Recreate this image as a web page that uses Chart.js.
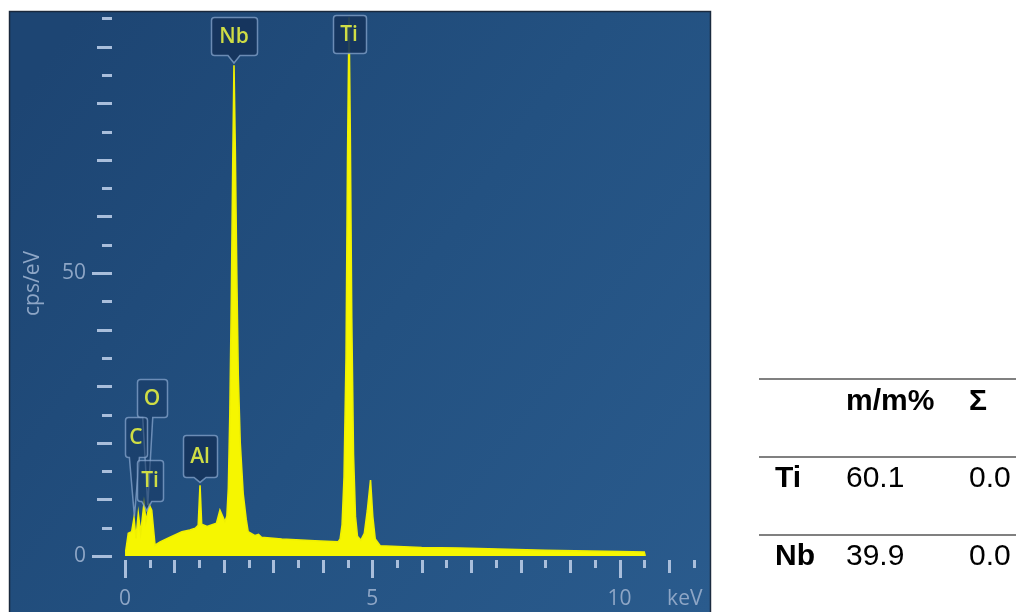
<!DOCTYPE html>
<html>
<head>
<meta charset="utf-8">
<script src="https://cdn.jsdelivr.net/npm/chart.js@4/dist/chart.umd.min.js"></script>
<style>
html,body{margin:0;padding:0;background:#ffffff;}
#wrap{position:relative;width:1016px;height:612px;overflow:hidden;background:#ffffff;}
#c{position:absolute;left:0;top:0;}
.cell{position:absolute;font-family:"Liberation Sans",Arial,sans-serif;font-size:30px;line-height:30px;color:#000;white-space:nowrap;}
.b{font-weight:bold;}
.rule{position:absolute;left:759px;width:257px;height:2px;background:#808080;}
</style>
</head>
<body>
<div id="wrap">
<canvas id="c" width="1016" height="612"></canvas>
<div id="tbl"></div>
</div>
<script>
// ---- data ----
const energy = [0, 0.034, 0.067, 0.135, 0.182, 0.222, 0.269, 0.317, 0.384, 0.425, 0.491, 0.540, 0.607, 0.71, 0.91, 1.15, 1.31, 1.42, 1.48, 1.517, 1.55, 1.66, 1.85, 1.92, 2.02, 2.06, 2.09, 2.12, 2.15, 2.18, 2.204, 2.23, 2.26, 2.29, 2.33, 2.39, 2.45, 2.49, 2.63, 2.70, 2.76, 3.17, 3.84, 4.31, 4.35, 4.39, 4.43, 4.47, 4.50, 4.53, 4.555, 4.585, 4.62, 4.66, 4.70, 4.77, 4.84, 4.90, 4.965, 5.01, 5.06, 5.16, 6.0, 6.77, 8.5, 10.0, 10.5, 10.52];
const counts = [0, 2, 4, 4.3, 6.7, 3.1, 7.5, 4, 9.3, 6.1, 9, 8.1, 1.9, 2.5, 3.3, 4.3, 4.6, 4.9, 5.4, 12.5, 5.6, 5.2, 5.8, 8.1, 6.1, 7, 12, 25, 45, 70, 86.7, 72, 50, 32, 20, 11, 6.5, 4.3, 3.6, 3.8, 3.3, 3.0, 2.7, 2.5, 3, 5.5, 14, 35, 70, 95.2, 75, 42, 18, 7, 3.5, 2.8, 4, 8, 13.4, 7, 3, 1.8, 1.5, 1.4, 1.0, 0.8, 0.7, 0];

const xTickValues = [0, 5, 10, 11.32];
const xTickLabels = ['0', '5', '10', 'keV'];
const yTickValues = [0, 50];
const yTickLabels = ['0', '50'];
const yAxisTitle = 'cps/eV';
const xMarkValues = [0, 0.5, 1, 1.5, 2, 2.5, 3, 3.5, 4, 4.5, 5, 5.5, 6, 6.5, 7, 7.5, 8, 8.5, 9, 9.5, 10, 10.5, 11, 11.5];
const yMarkValues = [0, 5, 10, 15, 20, 25, 30, 35, 40, 45, 50, 55, 60, 65, 70, 75, 80, 85, 90, 95];

const peakLabels = ['Nb', 'Ti', 'O', 'C', 'Ti', 'Al'];
const peakLabelEnergy = [2.204, 4.53, 0.546, 0.222, 0.506, 1.517];
const peakLabelLevel = [91.9, 92.2, 27.9, 21.0, 13.4, 17.7];
const peakTipEnergy = [2.204, 4.53, 0.46, 0.19, 0.44, 1.517];
const peakTipLevel = [87.1, 92.2, 9.0, 7.0, 8.0, 13.0];

const tableHeader = ['', 'm/m%', 'Σ'];
const tableElements = ['Ti', 'Nb'];
const tableMass = ['60.1', '39.9'];
const tableSigma = ['0.0', '0.0'];

// ---- annotation styling (sizes in px) ----
const boxStyle = [
  {w: 46, h: 38, tail: 'notch'},
  {w: 33, h: 38, tail: 'none'},
  {w: 30, h: 38, tail: 'long'},
  {w: 22, h: 40, tail: 'long'},
  {w: 26, h: 41, tail: 'long'},
  {w: 34, h: 42, tail: 'notch'}
];

const PANEL = {x: 9, y: 11, r: 711, b: 612};

const bgPlugin = {
  id: 'panelBg',
  beforeDraw(chart) {
    const ctx = chart.ctx;
    ctx.save();
    ctx.fillStyle = '#ffffff';
    ctx.fillRect(0, 0, chart.width, chart.height);
    const g = ctx.createLinearGradient(PANEL.x, PANEL.y + 100, PANEL.r, PANEL.b);
    g.addColorStop(0, '#1d4573');
    g.addColorStop(0.5, '#235181');
    g.addColorStop(1, '#2a5b8d');
    ctx.fillStyle = g;
    ctx.fillRect(PANEL.x, PANEL.y, PANEL.r - PANEL.x, PANEL.b - PANEL.y);
    ctx.strokeStyle = 'rgba(25,35,50,0.85)';
    ctx.lineWidth = 1.5;
    ctx.strokeRect(PANEL.x + 0.5, PANEL.y + 0.5, PANEL.r - PANEL.x - 1, PANEL.b - PANEL.y + 5);
    ctx.restore();
  }
};

const marksPlugin = {
  id: 'tickMarks',
  afterDraw(chart) {
    const ctx = chart.ctx;
    const xs = chart.scales.x, ys = chart.scales.y;
    ctx.save();
    ctx.strokeStyle = '#a9bedb';
    ctx.lineWidth = 3;
    ctx.lineCap = 'butt';
    const yRight = 112;
    yMarkValues.forEach(v => {
      const py = Math.round(ys.getPixelForValue(v)) + 0.5;
      const len = (v % 50 === 0) ? 20 : (v % 10 === 0 ? 15 : 10);
      ctx.beginPath();
      ctx.moveTo(yRight - len, py);
      ctx.lineTo(yRight, py);
      ctx.stroke();
    });
    const xTop = 560;
    xMarkValues.forEach(v => {
      const px = Math.round(xs.getPixelForValue(v)) + 0.5;
      const len = (v % 5 === 0) ? 18 : (v % 1 === 0 ? 13 : 8);
      ctx.beginPath();
      ctx.moveTo(px, xTop);
      ctx.lineTo(px, xTop + len);
      ctx.stroke();
    });
    ctx.restore();
  }
};

const labelPlugin = {
  id: 'peakLabels',
  afterDatasetsDraw(chart) {
    const ctx = chart.ctx;
    const xs = chart.scales.x, ys = chart.scales.y;
    ctx.save();
    peakLabels.forEach((txt, i) => {
      const st = boxStyle[i];
      const cx = xs.getPixelForValue(peakLabelEnergy[i]);
      const cy = ys.getPixelForValue(peakLabelLevel[i]);
      const tx = xs.getPixelForValue(peakTipEnergy[i]);
      const ty = ys.getPixelForValue(peakTipLevel[i]);
      const x0 = Math.round(cx - st.w / 2) + 0.5, y0 = Math.round(cy - st.h / 2) + 0.5;
      const x1 = x0 + st.w, y1 = y0 + st.h;
      const r = 3;
      ctx.beginPath();
      ctx.moveTo(x0 + r, y0);
      ctx.lineTo(x1 - r, y0);
      ctx.quadraticCurveTo(x1, y0, x1, y0 + r);
      ctx.lineTo(x1, y1 - r);
      ctx.quadraticCurveTo(x1, y1, x1 - r, y1);
      if (st.tail === 'notch' || st.tail === 'long') {
        const hw = st.tail === 'notch' ? 6 : 5;
        const mid = st.tail === 'notch' ? cx : Math.max(x0 + hw + 2, Math.min(x1 - hw - 2, tx));
        ctx.lineTo(mid + hw, y1);
        ctx.lineTo(tx, ty);
        ctx.lineTo(mid - hw, y1);
      }
      ctx.lineTo(x0 + r, y1);
      ctx.quadraticCurveTo(x0, y1, x0, y1 - r);
      ctx.lineTo(x0, y0 + r);
      ctx.quadraticCurveTo(x0, y0, x0 + r, y0);
      ctx.closePath();
      ctx.fillStyle = st.tail === 'long' ? 'rgba(24,56,98,0.55)' : 'rgba(22,52,92,0.92)';
      ctx.fill();
      ctx.strokeStyle = 'rgba(135,165,205,0.75)';
      ctx.lineWidth = 1.5;
      ctx.stroke();
      ctx.fillStyle = '#cfdd45';
      ctx.font = '600 21px "Open Sans", "Noto Sans", sans-serif';
      ctx.textAlign = 'center';
      ctx.textBaseline = 'middle';
      ctx.fillText(txt, cx, cy + 1);
    });
    ctx.restore();
  }
};

const tickColor = '#8ea6c6';

new Chart(document.getElementById('c'), {
  type: 'line',
  data: {
    datasets: [{
      data: energy.map((e, i) => ({x: e, y: counts[i]})),
      borderColor: '#f0f000',
      backgroundColor: '#f6f600',
      borderWidth: 1.6,
      pointRadius: 0,
      tension: 0,
      fill: 'origin'
    }]
  },
  options: {
    responsive: false,
    animation: false,
    devicePixelRatio: 1,
    layout: {padding: {left: 0, right: 1016 - PANEL.r, top: PANEL.y, bottom: 0}},
    plugins: {legend: {display: false}, tooltip: {enabled: false}},
    scales: {
      x: {
        type: 'linear',
        min: 0,
        max: 11.85,
        grid: {display: false, drawTicks: false},
        border: {display: false},
        afterBuildTicks: s => { s.ticks = xTickValues.map(v => ({value: v})); },
        afterFit: s => { s.height = 56; s.paddingLeft = 0; s.paddingRight = 0; s.paddingTop = 0; s.paddingBottom = 0; },
        ticks: {
          padding: 30,
          autoSkip: false,
          maxRotation: 0,
          color: tickColor,
          font: {family: '"Open Sans", "Noto Sans", sans-serif', size: 21},
          callback: (v, i) => xTickLabels[i]
        }
      },
      y: {
        type: 'linear',
        min: 0,
        max: 96.3,
        grid: {display: false, drawTicks: false},
        border: {display: false},
        afterBuildTicks: s => { s.ticks = yTickValues.map(v => ({value: v})); },
        afterFit: s => { s.width = 125; s.paddingLeft = 0; s.paddingRight = 0; s.paddingTop = 0; s.paddingBottom = 0; },
        ticks: {
          padding: 39,
          autoSkip: false,
          color: tickColor,
          font: {family: '"Open Sans", "Noto Sans", sans-serif', size: 21},
          callback: (v, i) => yTickLabels[i]
        },
        title: {
          display: true,
          text: yAxisTitle,
          color: tickColor,
          font: {family: '"Open Sans", "Noto Sans", sans-serif', size: 21},
          padding: {top: 20, bottom: 0}
        }
      }
    }
  },
  plugins: [bgPlugin, marksPlugin, labelPlugin]
});

// ---- results table ----
(function buildTable() {
  const t = document.getElementById('tbl');
  const rules = [378, 456, 534];
  rules.forEach(y => {
    const d = document.createElement('div');
    d.className = 'rule';
    d.style.top = y + 'px';
    t.appendChild(d);
  });
  const cols = [775, 846, 969];
  const rowTops = [385, 462, 540];
  function cell(text, x, y, bold) {
    const d = document.createElement('div');
    d.className = 'cell' + (bold ? ' b' : '');
    d.style.left = x + 'px';
    d.style.top = y + 'px';
    d.textContent = text;
    t.appendChild(d);
  }
  tableHeader.forEach((h, j) => { if (h) cell(h, cols[j], rowTops[0], true); });
  tableElements.forEach((el, i) => {
    cell(el, cols[0], rowTops[i + 1], true);
    cell(tableMass[i], cols[1], rowTops[i + 1], false);
    cell(tableSigma[i], cols[2], rowTops[i + 1], false);
  });
})();
</script>
</body>
</html>
